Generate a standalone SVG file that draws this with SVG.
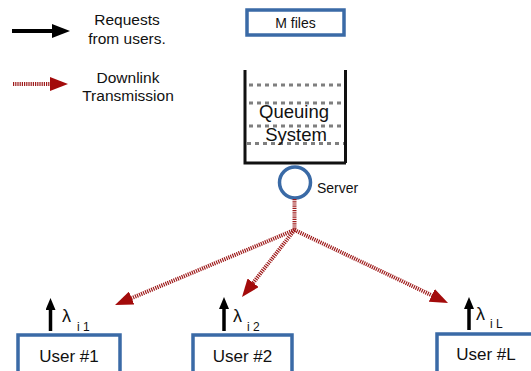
<svg xmlns="http://www.w3.org/2000/svg" width="531" height="371" viewBox="0 0 531 371">
<defs>
<marker id="blk" markerUnits="userSpaceOnUse" markerWidth="18" markerHeight="14" refX="6" refY="7" orient="auto"><path d="M0,0 L18,7 L0,14 z" fill="#000"/></marker>
<marker id="red" markerUnits="userSpaceOnUse" markerWidth="18" markerHeight="14" refX="6" refY="7" orient="auto"><path d="M0,0 L18,7 L0,14 z" fill="#a30b0b"/></marker>
<marker id="up" markerUnits="userSpaceOnUse" markerWidth="12" markerHeight="10" refX="4" refY="5" orient="auto"><path d="M0,0 L12,5 L0,10 z" fill="#000"/></marker>
</defs>
<style>
text{font-family:"Liberation Sans",Arial,sans-serif;fill:#111}
.box{fill:#fff;stroke:#3a6aa6;stroke-width:3.5}
.dl{stroke:#9e1a1a;stroke-width:4;stroke-dasharray:1.2,1;fill:none}
.q{stroke:#7f7f7f;stroke-width:3;stroke-dasharray:4,4;fill:none}
.wall{stroke:#111;stroke-width:3;fill:none}
.lam{font-size:18px}
.sub{font-size:12px}
</style>
<g id="legend">
<line x1="12" y1="31" x2="58" y2="31" stroke="#000" stroke-width="4" marker-end="url(#blk)"/>
<text x="127" y="25" font-size="15.5" text-anchor="middle">Requests</text>
<text x="127" y="44" font-size="15.5" text-anchor="middle">from users.</text>
<line x1="13" y1="84" x2="56" y2="84" class="dl" marker-end="url(#red)"/>
<text x="128" y="83" font-size="15.5" text-anchor="middle">Downlink</text>
<text x="128" y="101" font-size="15.5" text-anchor="middle">Transmission</text>
</g>
<g id="mfiles">
<rect x="247" y="10" width="97" height="25" class="box"/>
<text x="295.5" y="28" font-size="14" text-anchor="middle">M files</text>
</g>
<g id="queue">
<line x1="249" y1="85" x2="346" y2="85" class="q"/>
<line x1="249" y1="103" x2="346" y2="103" class="q"/>
<line x1="249" y1="126" x2="346" y2="126" class="q"/>
<line x1="247" y1="143.5" x2="350" y2="143.5" class="q" stroke-dasharray="3,1.5"/>
<text x="294" y="118" font-size="18.5" text-anchor="middle">Queuing</text>
<text x="296" y="140.5" font-size="18.5" text-anchor="middle">System</text>
<path d="M245,70 V163 H346 M345.5,70 V163" class="wall"/>
</g>
<g id="server">
<circle cx="295" cy="182.5" r="15.5" fill="#fff" stroke="#3a6aa6" stroke-width="3.5"/>
<text x="317" y="193" font-size="14">Server</text>
</g>
<g id="connectors">
<line x1="294.5" y1="199" x2="294.5" y2="230" class="dl"/>
<line x1="294.5" y1="230" x2="126.1" y2="300.4" class="dl" marker-end="url(#red)"/>
<line x1="294.5" y1="230" x2="249.4" y2="287.5" class="dl" marker-end="url(#red)"/>
<line x1="294.5" y1="230" x2="437.2" y2="297.9" class="dl" marker-end="url(#red)"/>
<line x1="50.5" y1="331" x2="50.5" y2="306" stroke="#000" stroke-width="3.5" marker-end="url(#up)"/>
<line x1="224" y1="331" x2="224" y2="305" stroke="#000" stroke-width="3.5" marker-end="url(#up)"/>
<line x1="469" y1="330" x2="469" y2="305" stroke="#000" stroke-width="3.5" marker-end="url(#up)"/>
</g>
<g id="user1">
<rect x="18" y="335" width="102" height="50" class="box"/>
<text x="69" y="362" font-size="17" text-anchor="middle">User #1</text>
<text x="62" y="322" class="lam">λ</text>
<text x="77" y="331" class="sub">i 1</text>
</g>
<g id="user2">
<rect x="193" y="335" width="99" height="50" class="box"/>
<text x="242.5" y="362" font-size="17" text-anchor="middle">User #2</text>
<text x="233" y="322" class="lam">λ</text>
<text x="247" y="331" class="sub">i 2</text>
</g>
<g id="userL">
<rect x="437" y="334" width="110" height="50" class="box"/>
<text x="486" y="360" font-size="17" text-anchor="middle">User #L</text>
<text x="476" y="320" class="lam">λ</text>
<text x="490" y="328" class="sub">i L</text>
</g>
</svg>
